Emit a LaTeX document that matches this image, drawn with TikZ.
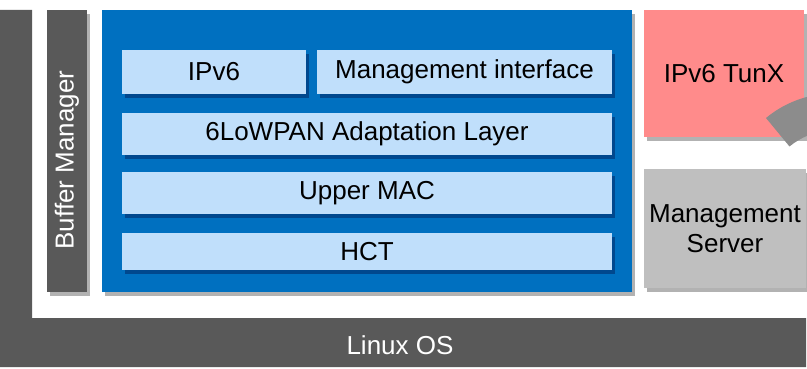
\documentclass[tikz,border=0pt]{standalone}
\usepackage{fontspec}
\setmainfont{Liberation Sans}
\usetikzlibrary{shadows}
\definecolor{darkgr}{HTML}{595959}
\definecolor{bluebg}{HTML}{0070C0}
\definecolor{lightbl}{HTML}{C0DFFB}
\definecolor{pinkbx}{HTML}{FF8B8B}
\definecolor{lightgr}{HTML}{BFBFBF}
\definecolor{arcgr}{HTML}{8C8C8C}
\tikzset{
  shad/.style={drop shadow={shadow xshift=3pt,shadow yshift=-4pt,opacity=0.3,fill=black}},
  innershad/.style={drop shadow={shadow xshift=3pt,shadow yshift=-4pt,opacity=0.35,fill=black!80!blue}},
  box/.style={rectangle,inner sep=0pt,outer sep=0pt,font=\fontsize{26}{30}\selectfont,align=center},
  layer/.style={box,fill=lightbl,text=black,innershad},
}
\begin{document}
\begin{tikzpicture}[x=1pt,y=-1pt]
\useasboundingbox (0,0) rectangle (807,369);
% Linux OS L-shape
\fill[darkgr] (0,10) -- (32,10) -- (32,318) -- (806,318) -- (806,367) -- (0,367) -- cycle;
\node[box,text=white] (linux) at (400,345) {Linux OS};
% Buffer manager
\node[box,fill=darkgr,text=white,shad,minimum width=40pt,minimum height=282pt] (buf) at (67,151) {};
\node[box,text=white,rotate=90] (buftxt) at (67,160) {Buffer Manager};
% Blue stack
\node[box,fill=bluebg,shad,minimum width=530pt,minimum height=282pt] (stack) at (367,151) {};
\node[layer,minimum width=184pt,minimum height=44pt] (ipv6) at (214,72) {IPv6};
\node[layer,minimum width=295pt,minimum height=44pt] (mgmt) at (464.5,72) {Management interface};
\node[layer,minimum width=490pt,minimum height=42pt] (lowpan) at (367,134) {6LoWPAN Adaptation Layer};
\node[layer,minimum width=490pt,minimum height=42pt] (umac) at (367,193) {Upper MAC};
\node[layer,minimum width=490pt,minimum height=37pt] (hct) at (367,251.5) {HCT};
% Right side
\node[box,fill=pinkbx,shad,minimum width=160pt,minimum height=127pt] (tunx) at (724,73.5) {IPv6 TunX};
\begin{scope}
\clip (0,0) rectangle (807,369);
\fill[arcgr] (766,118) arc[start angle=230.3,end angle=265,radius=106.6] -- (827.9,130.7) arc[start angle=265,end angle=230.3,radius=69.6] -- cycle;
\end{scope}
\node[box,fill=lightgr,shad,minimum width=162pt,minimum height=119pt] (mserver) at (725,228.5) {Management\\Server};
\end{tikzpicture}
\end{document}
